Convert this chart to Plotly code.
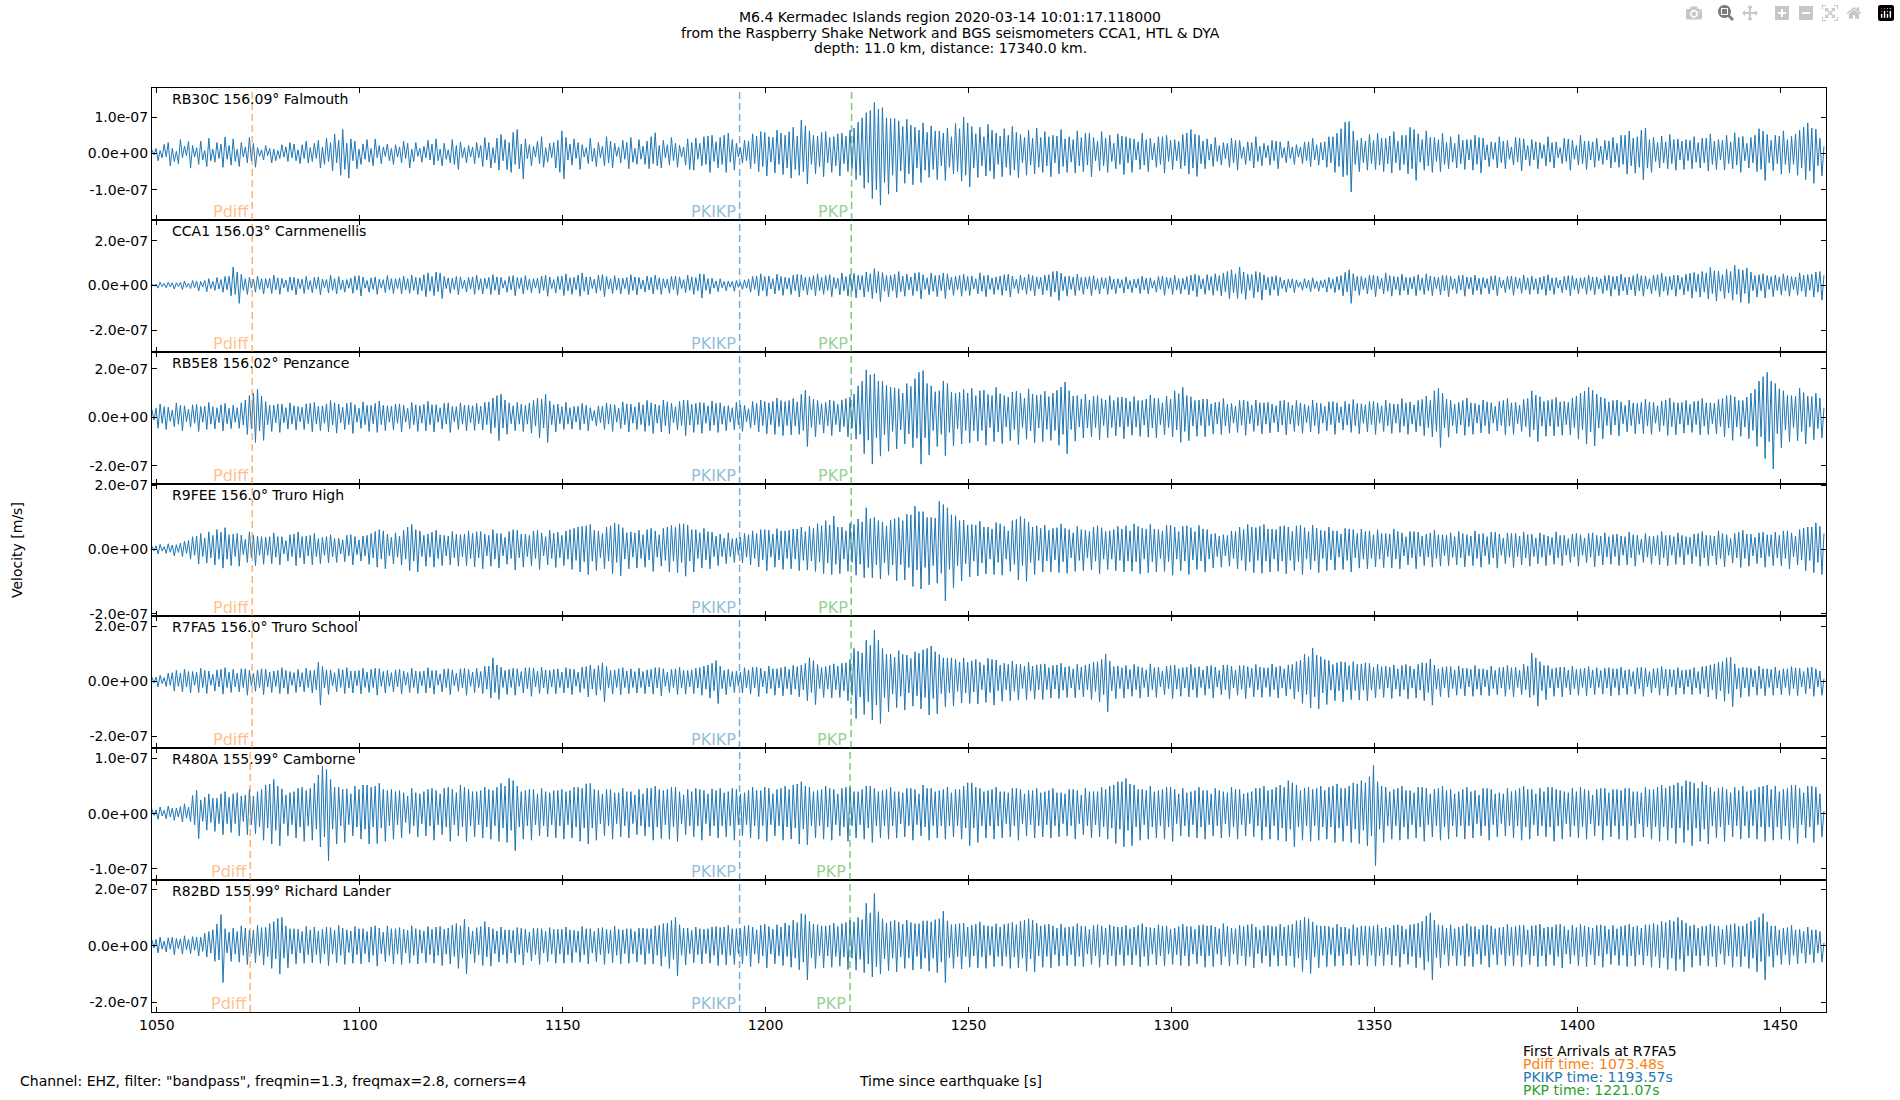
import plotly.graph_objects as go
from plotly.subplots import make_subplots

# Time axis: one value every half second, first sample at this time since the quake
start_time = 1048.8
sample_step = 0.5

stations = ["RB30C", "CCA1", "RB5E8", "R9FEE", "R7FA5", "R480A", "R82BD"]
distances = ["156.09", "156.03", "156.02", "156.0", "156.0", "155.99", "155.99"]
places = ["Falmouth", "Carnmenellis", "Penzance", "Truro High", "Truro School",
          "Camborne", "Richard Lander"]

# Vertical velocity, nm/s (one row = 20 s)
rb30c = [
    10, -4, 14, -20, 8, -12, 25, -9, 30, -34, 14, -22, 6, -28, 38, -12, 20, -6, 33, -40, 22, -10, 16, -30, 34, -18, 8, -36, 42, -20, 12, -24, 30, -14, 26, -38, 45, -16, 22, -32,
    40, -22, 12, -36, 30, -10, 18, -26, 44, -20, 28, -38, 16, -8, 10, -18, 22, -6, 14, -26, 12, -20, 8, -14, 24, -10, 18, -22, 30, -12, 26, -20, 10, -28, 24, -14, 34, -26, 16, -22,
    28, -14, 36, -40, 18, -30, 42, -22, 30, -48, 54, -26, 36, -60, 66, -44, 28, -68, 40, -20, 34, -42, 12, -30, 26, -16, 38, -24, 14, -34, 40, -12, 22, -28, 18, -8, 26, -20, 14, -30,
    24, -10, 18, -26, 34, -14, 28, -40, 12, -22, 30, -8, 14, -24, 20, -12, 36, -18, 26, -32, 40, -20, 12, -34, 28, -16, 10, -26, 38, -30, 22, -44, 32, -12, 16, -26, 22, -10, 18, -28,
    30, -12, 22, -36, 44, -18, 30, -40, 16, -26, 42, -46, 52, -20, 38, -44, 30, -52, 58, -30, 66, -42, 26, -70, 40, -14, 24, -34, 20, -10, 34, -28, 46, -38, 16, -24, 28, -12, 30, -40,
    36, -52, 62, -70, 44, -18, 26, -32, 40, -14, 30, -44, 24, -10, 16, -28, 42, -22, 14, -36, 30, -12, 20, -34, 46, -26, 34, -40, 28, -8, 18, -26, 36, -16, 30, -42, 44, -24, 14, -30,
    38, -16, 20, -30, 34, -42, 46, -28, 57, -34, 22, -40, 36, -12, 24, -32, 44, -20, 28, -38, 22, -10, 18, -32, 40, -44, 30, -46, 42, -16, 28, -34, 46, -30, 48, -52, 50, -22, 32, -40,
    44, -30, 50, -52, 56, -24, 38, -46, 28, -10, 16, -26, 36, -20, 34, -42, 54, -28, 48, -50, 60, -36, 58, -62, 46, -24, 44, -54, 64, -30, 56, -58, 50, -40, 60, -68, 72, -44, 48, -60,
    92, -50, 76, -84, 62, -30, 50, -56, 48, -36, 58, -64, 60, -26, 44, -52, 46, -34, 54, -62, 56, -28, 48, -50, 64, -42, 70, -72, 86, -60, 98, -96, 112, -80, 118, -124, 140, -100, 122, -142,
    126, -80, 98, -112, 96, -60, 96, -106, 90, -48, 74, -82, 94, -56, 78, -86, 72, -40, 64, -80, 84, -46, 58, -66, 76, -44, 62, -72, 62, -34, 56, -74, 70, -38, 46, -56, 82, -50, 68, -76,
    100, -60, 84, -92, 74, -40, 54, -66, 72, -34, 46, -62, 80, -48, 64, -70, 56, -30, 48, -64, 68, -38, 50, -60, 74, -46, 58, -66, 52, -26, 44, -60, 64, -32, 42, -56, 70, -38, 44, -52,
    60, -34, 46, -64, 50, -26, 48, -56, 66, -36, 40, -52, 46, -24, 38, -54, 62, -34, 44, -50, 56, -32, 56, -64, 44, -20, 34, -48, 60, -34, 42, -52, 50, -22, 28, -42, 54, -30, 48, -58,
    46, -26, 42, -52, 40, -18, 32, -44, 56, -32, 38, -50, 42, -18, 28, -38, 46, -30, 46, -54, 50, -22, 36, -44, 38, -20, 33, -42, 52, -34, 56, -57, 66, -40, 53, -63, 50, -28, 34, -42,
    40, -18, 26, -36, 44, -22, 22, -32, 30, -14, 28, -38, 42, -26, 36, -46, 36, -14, 18, -30, 32, -20, 30, -40, 46, -22, 20, -34, 28, -12, 22, -32, 36, -20, 34, -42, 32, -12, 16, -26,
    34, -14, 18, -30, 24, -10, 18, -28, 32, -20, 32, -36, 42, -18, 24, -32, 30, -18, 32, -38, 46, -26, 46, -52, 56, -36, 68, -64, 86, -60, 88, -106, 62, -30, 36, -50, 42, -26, 34, -46,
    52, -28, 36, -44, 56, -32, 42, -50, 42, -28, 48, -54, 60, -26, 34, -46, 50, -30, 50, -56, 72, -42, 66, -74, 54, -24, 38, -46, 62, -34, 44, -52, 44, -22, 38, -50, 56, -30, 30, -42,
    46, -24, 28, -40, 52, -28, 36, -44, 38, -18, 38, -46, 50, -30, 44, -54, 42, -18, 24, -36, 32, -16, 30, -40, 46, -26, 34, -42, 36, -16, 18, -32, 44, -24, 42, -48, 40, -18, 22, -34,
    38, -18, 32, -42, 30, -14, 24, -34, 46, -24, 30, -40, 32, -12, 16, -28, 42, -22, 40, -46, 36, -16, 22, -32, 50, -28, 34, -44, 34, -18, 32, -38, 42, -20, 20, -30, 36, -18, 34, -40,
    44, -24, 28, -38, 50, -30, 50, -57, 62, -34, 42, -54, 46, -38, 64, -72, 70, -40, 38, -52, 44, -22, 30, -40, 48, -26, 32, -42, 52, -28, 38, -46, 40, -18, 34, -44, 38, -20, 36, -42,
    46, -24, 30, -40, 42, -26, 42, -48, 54, -30, 34, -44, 38, -18, 36, -46, 50, -28, 32, -42, 57, -32, 44, -52, 47, -20, 28, -40, 44, -26, 50, -50, 68, -44, 62, -74, 52, -26, 36, -47,
    50, -28, 48, -57, 62, -30, 38, -54, 47, -30, 54, -60, 64, -40, 72, -72, 84, -48, 70, -82, 67, -34, 42, -62, 20,
]
cca1 = [
    8, -3, 6, -12, 15, -5, 9, -10, 14, -6, 12, -16, 12, -5, 14, -18, 20, -8, 10, -14, 22, -10, 20, -25, 18, -7, 22, -28, 30, -14, 18, -22, 35, -16, 26, -30, 40, -20, 42, -46,
    82, -40, 60, -80, 50, -22, 30, -40, 36, -12, 28, -30, 42, -18, 30, -38, 30, -12, 32, -36, 46, -20, 34, -40, 32, -10, 24, -28, 38, -22, 36, -42, 30, -14, 28, -35, 40, -18, 22, -32,
    36, -16, 38, -42, 28, -10, 26, -34, 46, -22, 30, -38, 40, -18, 24, -30, 26, -12, 32, -35, 42, -20, 44, -47, 38, -12, 22, -30, 34, -18, 38, -40, 28, -12, 26, -32, 44, -20, 30, -36,
    30, -14, 34, -38, 42, -20, 30, -35, 46, -22, 36, -40, 35, -24, 48, -50, 56, -26, 40, -45, 60, -28, 56, -58, 40, -14, 34, -35, 32, -18, 40, -42, 38, -14, 24, -30, 36, -16, 38, -40,
    46, -20, 30, -38, 32, -14, 36, -40, 48, -22, 38, -42, 36, -12, 22, -30, 40, -20, 44, -46, 35, -14, 34, -38, 44, -20, 28, -32, 30, -12, 32, -36, 42, -22, 46, -48, 38, -14, 26, -34,
    40, -18, 42, -45, 52, -24, 34, -40, 36, -20, 46, -48, 56, -26, 38, -42, 38, -14, 28, -35, 46, -22, 48, -50, 40, -16, 30, -36, 44, -20, 32, -38, 32, -14, 36, -40, 48, -22, 38, -42,
    36, -16, 24, -30, 42, -20, 36, -38, 46, -18, 34, -40, 30, -12, 28, -35, 40, -18, 42, -44, 38, -14, 26, -32, 46, -22, 38, -40, 35, -24, 52, -56, 50, -22, 30, -38, 32, -12, 20, -28,
    30, -10, 18, -24, 20, -8, 18, -26, 22, -8, 14, -18, 25, -12, 28, -30, 40, -18, 42, -46, 52, -24, 40, -48, 42, -16, 30, -38, 50, -22, 40, -44, 36, -16, 34, -40, 46, -24, 50, -52,
    48, -22, 36, -42, 38, -20, 44, -46, 52, -24, 36, -40, 44, -22, 48, -50, 36, -14, 32, -42, 56, -24, 40, -48, 50, -26, 54, -56, 45, -20, 44, -52, 60, -28, 52, -58, 75, -34, 62, -72,
    58, -26, 44, -50, 46, -24, 50, -55, 62, -28, 42, -48, 50, -20, 38, -45, 56, -26, 58, -60, 48, -18, 34, -42, 55, -26, 44, -50, 46, -24, 56, -58, 52, -20, 36, -44, 40, -20, 44, -48,
    50, -24, 40, -45, 42, -16, 30, -38, 56, -26, 44, -50, 46, -18, 34, -40, 38, -20, 42, -44, 48, -24, 50, -52, 42, -14, 28, -36, 46, -20, 36, -40, 50, -24, 44, -46, 38, -16, 36, -42,
    46, -22, 48, -50, 62, -30, 64, -67, 55, -24, 40, -48, 42, -18, 38, -45, 50, -22, 36, -40, 38, -16, 40, -46, 44, -20, 30, -38, 35, -14, 34, -40, 42, -18, 28, -36, 30, -12, 26, -34,
    38, -16, 22, -32, 28, -12, 30, -36, 42, -20, 32, -38, 34, -12, 22, -30, 40, -18, 42, -44, 36, -14, 34, -40, 46, -20, 30, -38, 32, -18, 40, -42, 46, -24, 50, -50, 44, -16, 30, -40,
    48, -22, 40, -44, 52, -24, 44, -46, 56, -28, 62, -60, 70, -32, 52, -58, 82, -36, 60, -62, 50, -22, 48, -56, 62, -30, 58, -66, 48, -20, 36, -44, 40, -20, 44, -46, 36, -14, 24, -30,
    28, -12, 30, -32, 25, -8, 16, -22, 30, -12, 24, -28, 34, -14, 20, -26, 22, -10, 26, -30, 36, -14, 28, -32, 40, -20, 44, -46, 58, -30, 70, -80, 52, -24, 40, -44, 40, -18, 34, -38,
    46, -20, 46, -50, 42, -16, 32, -38, 56, -26, 44, -48, 40, -18, 38, -44, 50, -22, 36, -42, 36, -16, 40, -46, 48, -22, 34, -40, 52, -24, 42, -46, 38, -14, 36, -42, 46, -24, 44, -50,
    40, -18, 30, -36, 44, -20, 46, -48, 38, -16, 36, -42, 46, -22, 32, -40, 35, -12, 30, -38, 42, -20, 44, -46, 36, -12, 24, -32, 40, -18, 42, -44, 38, -14, 32, -35, 46, -20, 34, -40,
    42, -20, 30, -38, 36, -18, 42, -44, 48, -22, 34, -40, 35, -12, 24, -32, 40, -20, 44, -46, 44, -18, 32, -38, 34, -14, 36, -40, 46, -22, 38, -42, 38, -16, 30, -36, 44, -22, 46, -48,
    40, -18, 42, -45, 50, -24, 36, -42, 38, -20, 44, -46, 52, -24, 44, -48, 42, -16, 30, -38, 46, -22, 48, -50, 56, -26, 40, -44, 40, -20, 46, -48, 46, -18, 36, -42, 50, -26, 54, -56,
    58, -28, 50, -52, 62, -30, 56, -60, 80, -36, 66, -70, 64, -26, 48, -58, 72, -34, 62, -66, 90, -40, 72, -76, 68, -36, 78, -80, 60, -24, 44, -52, 48, -24, 52, -56, 44, -18, 40, -50,
    46, -22, 38, -42, 52, -24, 44, -48, 40, -18, 38, -44, 56, -26, 46, -50, 48, -22, 50, -52, 60, -30, 62, -66, 45,
]
rb5e8 = [
    30, -12, 38, -45, 55, -24, 44, -50, 42, -16, 30, -38, 60, -28, 50, -55, 48, -18, 34, -40, 52, -24, 54, -58, 45, -20, 46, -50, 62, -28, 44, -48, 40, -22, 52, -55, 58, -26, 38, -46,
    50, -20, 40, -45, 60, -32, 72, -70, 90, -48, 100, -103, 117, -56, 88, -95, 65, -30, 50, -58, 50, -22, 56, -62, 55, -22, 40, -48, 60, -28, 48, -52, 45, -18, 42, -50, 56, -26, 58, -60,
    62, -28, 46, -55, 48, -24, 56, -60, 70, -32, 60, -65, 55, -22, 42, -50, 58, -30, 62, -66, 52, -20, 38, -45, 64, -30, 50, -58, 50, -26, 58, -62, 68, -30, 50, -55, 48, -20, 46, -52,
    55, -24, 56, -60, 50, -20, 38, -46, 62, -30, 52, -58, 48, -24, 54, -55, 66, -30, 52, -60, 52, -20, 40, -48, 58, -28, 60, -62, 45, -18, 44, -50, 60, -28, 50, -56, 50, -22, 48, -54,
    58, -26, 46, -52, 62, -30, 64, -66, 80, -42, 90, -96, 96, -44, 72, -70, 60, -26, 48, -55, 62, -28, 54, -58, 50, -28, 60, -65, 70, -36, 80, -85, 75, -44, 96, -103, 68, -30, 52, -60,
    55, -26, 44, -50, 62, -28, 40, -48, 45, -20, 46, -52, 58, -26, 50, -55, 40, -14, 28, -35, 48, -22, 46, -50, 60, -28, 54, -58, 52, -20, 38, -46, 64, -30, 56, -60, 55, -24, 44, -50,
    62, -30, 52, -58, 70, -34, 60, -66, 55, -24, 50, -60, 72, -34, 64, -68, 58, -22, 44, -52, 66, -34, 72, -75, 70, -32, 54, -62, 58, -30, 62, -66, 60, -24, 48, -55, 68, -32, 58, -62,
    60, -28, 46, -55, 48, -20, 40, -52, 62, -30, 52, -58, 50, -18, 36, -45, 66, -32, 58, -60, 72, -34, 66, -68, 60, -30, 66, -70, 80, -38, 70, -75, 65, -34, 70, -72, 78, -36, 64, -70,
    95, -54, 112, -120, 88, -42, 76, -80, 70, -30, 56, -65, 62, -34, 72, -75, 68, -30, 54, -60, 72, -38, 78, -80, 85, -44, 96, -90, 130, -70, 150, -150, 196, -94, 176, -193, 180, -84, 150, -160,
    150, -72, 132, -140, 125, -58, 122, -130, 118, -52, 100, -110, 140, -68, 128, -125, 160, -86, 186, -193, 193, -84, 140, -155, 130, -54, 106, -120, 110, -70, 150, -158, 140, -62, 104, -118, 100, -48, 104, -110,
    115, -54, 100, -105, 120, -56, 90, -98, 110, -54, 112, -115, 95, -42, 90, -100, 124, -60, 98, -108, 90, -40, 84, -96, 105, -50, 108, -112, 100, -42, 80, -90, 118, -56, 96, -104, 92, -44, 94, -100,
    108, -50, 86, -95, 100, -54, 112, -115, 125, -70, 146, -150, 110, -50, 88, -98, 90, -40, 76, -85, 96, -44, 72, -80, 88, -42, 90, -92, 78, -34, 72, -84, 90, -42, 70, -76, 82, -40, 84, -88,
    80, -38, 66, -74, 86, -40, 70, -78, 70, -32, 76, -82, 92, -44, 80, -85, 78, -30, 60, -72, 88, -42, 76, -80, 110, -52, 98, -103, 124, -58, 90, -96, 85, -36, 70, -78, 72, -34, 76, -80,
    75, -34, 56, -68, 62, -28, 64, -70, 78, -36, 54, -65, 58, -24, 46, -62, 70, -32, 72, -74, 66, -26, 50, -58, 72, -34, 60, -68, 60, -28, 62, -64, 55, -22, 48, -60, 68, -32, 70, -72,
    62, -28, 50, -58, 70, -34, 60, -66, 54, -22, 48, -60, 72, -34, 60, -68, 58, -24, 46, -55, 64, -30, 66, -70, 60, -22, 44, -52, 66, -32, 56, -62, 74, -34, 58, -68, 56, -24, 52, -60,
    65, -30, 66, -70, 60, -24, 48, -58, 72, -34, 58, -66, 55, -24, 54, -62, 78, -36, 60, -70, 64, -28, 52, -60, 70, -36, 74, -75, 88, -42, 70, -80, 110, -58, 120, -124, 100, -44, 76, -82,
    70, -34, 54, -66, 62, -32, 70, -74, 80, -38, 60, -70, 58, -24, 52, -64, 72, -34, 64, -68, 60, -24, 46, -56, 66, -34, 70, -72, 78, -36, 60, -70, 62, -26, 50, -58, 74, -38, 78, -80,
    110, -52, 92, -100, 85, -36, 66, -78, 70, -36, 74, -76, 82, -38, 64, -74, 66, -30, 62, -72, 80, -42, 88, -90, 100, -52, 108, -110, 124, -60, 112, -118, 96, -44, 84, -88, 78, -34, 64, -72,
    70, -32, 72, -76, 64, -26, 50, -60, 72, -34, 60, -68, 58, -28, 62, -66, 75, -36, 64, -70, 62, -24, 48, -58, 68, -34, 72, -74, 80, -38, 62, -72, 60, -28, 62, -65, 70, -32, 54, -62,
    66, -30, 68, -72, 78, -36, 60, -70, 60, -26, 58, -68, 74, -38, 78, -80, 90, -44, 92, -95, 85, -40, 70, -78, 70, -40, 84, -88, 100, -54, 116, -120, 150, -80, 168, -170, 186, -100, 150, -213,
    140, -68, 118, -125, 110, -52, 90, -100, 90, -42, 88, -96, 120, -58, 102, -110, 88, -40, 86, -92, 100, -46, 80, -85, 40,
]
r9fee = [
    10, -4, 12, -14, 16, -5, 9, -12, 18, -8, 14, -20, 15, -9, 20, -22, 26, -12, 28, -30, 40, -18, 42, -45, 50, -22, 36, -42, 55, -26, 44, -48, 62, -30, 54, -58, 68, -30, 46, -50,
    48, -22, 50, -52, 45, -16, 32, -40, 55, -26, 44, -50, 42, -18, 40, -46, 38, -18, 40, -44, 52, -24, 40, -48, 40, -14, 28, -36, 46, -22, 48, -50, 55, -26, 40, -45, 42, -20, 44, -48,
    50, -22, 34, -44, 38, -18, 40, -42, 46, -22, 34, -40, 35, -14, 30, -38, 44, -20, 46, -48, 40, -16, 30, -36, 42, -20, 44, -46, 50, -26, 56, -55, 62, -30, 58, -60, 48, -20, 38, -45,
    52, -24, 42, -48, 60, -30, 70, -66, 78, -36, 62, -70, 58, -22, 44, -52, 48, -24, 54, -55, 60, -28, 46, -50, 44, -20, 42, -48, 56, -26, 48, -52, 46, -22, 48, -50, 58, -28, 50, -54,
    55, -26, 56, -60, 48, -20, 44, -52, 62, -30, 50, -58, 50, -20, 38, -46, 56, -28, 62, -64, 60, -26, 48, -55, 48, -22, 44, -50, 58, -28, 60, -62, 52, -20, 40, -48, 60, -28, 50, -56,
    54, -26, 44, -50, 58, -30, 62, -62, 66, -34, 70, -70, 72, -38, 74, -78, 78, -36, 60, -65, 58, -26, 50, -60, 70, -36, 74, -75, 83, -40, 78, -82, 68, -30, 52, -60, 55, -24, 52, -58,
    60, -28, 46, -55, 62, -32, 66, -68, 58, -24, 46, -52, 66, -34, 70, -70, 75, -36, 70, -72, 80, -40, 80, -83, 76, -36, 62, -70, 62, -28, 52, -58, 66, -32, 56, -60, 54, -22, 42, -50,
    48, -22, 36, -44, 52, -22, 34, -40, 36, -16, 38, -42, 50, -24, 46, -48, 58, -28, 50, -54, 62, -32, 62, -66, 60, -24, 48, -55, 65, -32, 58, -62, 58, -28, 60, -60, 64, -30, 64, -66,
    70, -34, 56, -64, 72, -36, 66, -68, 80, -38, 74, -75, 90, -42, 76, -78, 104, -46, 70, -75, 70, -30, 58, -68, 82, -40, 78, -80, 95, -46, 86, -88, 130, -56, 96, -88, 100, -48, 90, -92,
    86, -42, 74, -80, 92, -48, 96, -98, 100, -48, 90, -95, 110, -56, 108, -115, 135, -64, 118, -123, 118, -56, 100, -110, 100, -50, 98, -105, 150, -74, 140, -160, 130, -62, 108, -120, 105, -50, 90, -98,
    92, -44, 76, -85, 78, -36, 76, -82, 88, -42, 70, -76, 70, -30, 64, -78, 84, -40, 80, -80, 72, -30, 58, -68, 90, -46, 94, -95, 104, -50, 96, -99, 86, -40, 70, -78, 74, -34, 66, -70,
    76, -36, 60, -70, 66, -32, 68, -72, 80, -38, 66, -74, 62, -26, 52, -68, 72, -34, 62, -66, 60, -26, 56, -64, 70, -36, 74, -76, 68, -30, 56, -62, 58, -30, 62, -66, 72, -34, 64, -70,
    74, -36, 58, -68, 80, -38, 72, -76, 66, -30, 64, -72, 78, -38, 64, -70, 62, -28, 58, -68, 76, -38, 76, -80, 70, -30, 56, -66, 72, -36, 74, -78, 68, -32, 56, -62, 75, -36, 64, -70,
    62, -30, 48, -58, 50, -22, 42, -55, 46, -20, 44, -52, 58, -28, 56, -60, 70, -34, 62, -66, 78, -38, 70, -72, 68, -34, 72, -74, 78, -36, 64, -70, 64, -30, 62, -68, 72, -36, 74, -76,
    70, -34, 56, -66, 74, -38, 76, -78, 68, -30, 56, -62, 76, -36, 66, -72, 60, -28, 58, -66, 70, -32, 58, -64, 58, -24, 48, -62, 66, -34, 64, -70, 62, -26, 50, -58, 64, -30, 56, -60,
    58, -28, 46, -54, 62, -30, 50, -56, 50, -22, 48, -58, 64, -30, 56, -60, 52, -20, 40, -48, 56, -26, 56, -60, 54, -22, 42, -50, 48, -24, 52, -55, 60, -28, 46, -52, 46, -20, 44, -50,
    52, -24, 40, -48, 56, -26, 50, -54, 46, -20, 42, -50, 58, -28, 48, -55, 50, -20, 40, -46, 54, -26, 54, -58, 48, -18, 36, -44, 52, -24, 50, -56, 50, -22, 42, -48, 55, -26, 46, -52,
    48, -22, 36, -44, 52, -24, 46, -50, 42, -18, 38, -46, 55, -26, 44, -50, 44, -18, 34, -40, 48, -22, 50, -52, 46, -18, 36, -42, 50, -24, 52, -54, 44, -20, 42, -48, 52, -24, 40, -46,
    46, -22, 48, -50, 42, -18, 40, -48, 54, -26, 46, -52, 44, -16, 32, -40, 50, -24, 42, -46, 42, -20, 44, -48, 56, -26, 44, -50, 44, -18, 40, -46, 52, -24, 44, -48, 40, -16, 38, -44,
    48, -22, 50, -52, 56, -26, 44, -50, 44, -20, 42, -48, 58, -28, 50, -54, 46, -18, 34, -42, 50, -26, 54, -56, 60, -28, 48, -52, 48, -20, 38, -44, 52, -26, 54, -55, 46, -22, 46, -50,
    54, -26, 44, -50, 58, -28, 58, -60, 52, -22, 42, -48, 62, -32, 66, -66, 70, -34, 70, -72, 83, -40, 72, -78, 50,
]
r7fa5 = [
    15, -6, 16, -20, 22, -8, 14, -18, 30, -14, 32, -35, 40, -18, 30, -38, 45, -20, 36, -42, 36, -14, 34, -40, 48, -22, 40, -44, 38, -14, 26, -35, 42, -20, 44, -46, 50, -22, 34, -40,
    44, -20, 30, -38, 46, -22, 46, -50, 40, -16, 30, -36, 42, -22, 46, -48, 45, -20, 34, -40, 38, -18, 40, -44, 50, -24, 40, -46, 36, -14, 32, -40, 44, -20, 32, -38, 48, -22, 40, -42,
    40, -30, 70, -86, 55, -24, 42, -48, 42, -16, 32, -38, 46, -22, 42, -44, 50, -24, 38, -42, 38, -16, 40, -45, 48, -22, 34, -40, 44, -22, 48, -50, 46, -18, 36, -42, 40, -18, 32, -38,
    42, -20, 44, -46, 38, -14, 32, -40, 48, -22, 38, -44, 36, -16, 38, -42, 50, -24, 40, -46, 40, -14, 28, -38, 45, -22, 46, -48, 42, -16, 30, -36, 46, -24, 48, -50, 44, -18, 34, -40,
    48, -22, 36, -44, 55, -28, 56, -60, 86, -40, 60, -65, 52, -22, 40, -48, 44, -22, 48, -50, 46, -18, 36, -42, 50, -26, 50, -54, 48, -20, 38, -44, 52, -24, 42, -46, 40, -20, 44, -45,
    46, -22, 34, -42, 50, -24, 46, -48, 44, -18, 34, -40, 52, -26, 54, -56, 60, -28, 46, -50, 58, -32, 68, -75, 54, -24, 40, -46, 42, -22, 46, -48, 50, -22, 38, -44, 46, -22, 36, -42,
    48, -22, 36, -44, 42, -20, 44, -46, 50, -24, 50, -52, 46, -18, 34, -40, 44, -22, 46, -48, 52, -24, 40, -46, 40, -20, 42, -44, 48, -24, 50, -50, 56, -28, 60, -60, 66, -34, 76, -80,
    55, -26, 40, -48, 44, -20, 36, -40, 38, -16, 34, -42, 50, -24, 42, -46, 52, -24, 52, -55, 48, -20, 38, -44, 56, -26, 46, -50, 46, -24, 50, -52, 54, -26, 44, -48, 58, -28, 54, -56,
    60, -30, 66, -70, 86, -40, 76, -84, 62, -26, 50, -58, 54, -28, 58, -60, 64, -30, 56, -58, 66, -34, 68, -70, 80, -50, 120, -135, 110, -56, 104, -120, 150, -74, 132, -140, 186, -86, 150, -153,
    120, -58, 100, -110, 100, -46, 88, -95, 112, -54, 98, -104, 96, -42, 84, -90, 108, -52, 102, -100, 115, -58, 120, -122, 129, -62, 108, -118, 98, -44, 86, -92, 85, -42, 86, -90, 80, -36, 70, -78,
    86, -42, 70, -80, 75, -38, 80, -82, 70, -30, 60, -76, 84, -40, 80, -86, 78, -34, 60, -72, 66, -30, 62, -70, 74, -36, 62, -68, 62, -26, 56, -66, 70, -34, 56, -64, 60, -30, 62, -66,
    64, -30, 50, -60, 58, -28, 60, -62, 66, -32, 52, -58, 55, -24, 46, -60, 62, -30, 52, -56, 60, -30, 64, -66, 70, -36, 72, -75, 80, -48, 100, -110, 74, -34, 54, -62, 56, -26, 50, -60,
    58, -28, 44, -54, 62, -30, 54, -60, 50, -22, 42, -56, 64, -30, 50, -58, 52, -20, 38, -48, 56, -26, 58, -62, 60, -28, 46, -54, 50, -24, 52, -56, 62, -30, 50, -58, 54, -22, 42, -50,
    56, -26, 58, -60, 52, -20, 40, -48, 60, -30, 60, -64, 55, -24, 42, -50, 58, -28, 58, -62, 54, -22, 48, -56, 62, -30, 52, -58, 50, -22, 50, -55, 64, -30, 52, -60, 56, -24, 46, -52,
    60, -28, 62, -64, 72, -38, 78, -80, 100, -48, 90, -96, 122, -56, 96, -100, 90, -42, 80, -84, 76, -32, 62, -70, 68, -34, 72, -74, 70, -30, 58, -66, 72, -34, 62, -68, 64, -32, 68, -70,
    66, -32, 52, -60, 62, -28, 54, -58, 56, -24, 52, -62, 60, -28, 46, -54, 58, -30, 62, -64, 56, -24, 46, -60, 62, -32, 68, -70, 66, -40, 82, -86, 60, -28, 46, -55, 52, -24, 54, -58,
    54, -26, 42, -50, 56, -26, 48, -52, 48, -20, 44, -54, 58, -28, 46, -50, 46, -20, 42, -52, 56, -26, 40, -48, 50, -24, 52, -54, 58, -28, 50, -56, 52, -22, 40, -48, 62, -30, 56, -58,
    104, -50, 86, -90, 72, -34, 58, -66, 58, -24, 46, -54, 50, -24, 52, -56, 52, -22, 42, -48, 56, -26, 44, -50, 46, -22, 48, -52, 54, -24, 42, -48, 50, -22, 40, -46, 48, -24, 50, -52,
    46, -22, 46, -50, 52, -24, 40, -48, 44, -18, 36, -46, 50, -26, 52, -54, 48, -20, 36, -42, 46, -24, 48, -50, 54, -26, 44, -52, 44, -20, 42, -48, 50, -24, 40, -46, 42, -20, 44, -48,
    50, -24, 36, -46, 54, -26, 56, -56, 60, -30, 64, -64, 70, -34, 72, -72, 86, -44, 88, -92, 64, -28, 48, -58, 52, -24, 50, -54, 48, -20, 40, -50, 56, -26, 46, -52, 46, -22, 44, -50,
    52, -24, 40, -48, 46, -22, 46, -50, 54, -26, 50, -52, 48, -20, 36, -44, 50, -26, 52, -54, 46, -20, 38, -50, 10,
]
r480a = [
    8, -3, 7, -10, 12, -4, 6, -9, 14, -6, 10, -12, 10, -6, 13, -15, 18, -8, 12, -14, 33, -20, 42, -45, 25, -14, 30, -30, 36, -16, 28, -32, 28, -18, 36, -38, 40, -18, 30, -34,
    36, -18, 38, -40, 32, -14, 34, -38, 44, -20, 32, -36, 40, -24, 44, -48, 52, -26, 54, -55, 62, -30, 50, -58, 45, -18, 34, -40, 38, -20, 40, -44, 46, -24, 48, -50, 42, -22, 46, -48,
    55, -28, 70, -60, 86, -42, 80, -85, 62, -28, 48, -55, 48, -22, 44, -52, 45, -20, 36, -40, 50, -24, 44, -46, 52, -28, 52, -55, 48, -24, 50, -54, 55, -26, 44, -50, 42, -22, 44, -46,
    40, -20, 42, -44, 38, -16, 32, -36, 46, -22, 38, -42, 36, -18, 40, -40, 44, -22, 46, -48, 42, -20, 36, -38, 46, -24, 48, -50, 44, -20, 38, -40, 52, -24, 48, -50, 45, -22, 40, -42,
    40, -20, 42, -44, 48, -24, 44, -46, 42, -22, 48, -50, 55, -26, 50, -52, 64, -30, 60, -67, 50, -24, 40, -46, 42, -22, 44, -48, 44, -20, 36, -40, 46, -22, 40, -42, 38, -20, 42, -44,
    42, -22, 44, -46, 40, -20, 42, -44, 48, -24, 48, -50, 46, -26, 54, -55, 55, -26, 44, -48, 42, -18, 36, -40, 44, -22, 44, -46, 38, -18, 38, -42, 46, -22, 40, -44, 40, -18, 34, -38,
    44, -22, 36, -40, 46, -24, 46, -48, 50, -24, 44, -45, 42, -20, 44, -46, 48, -24, 48, -50, 40, -18, 34, -38, 44, -22, 40, -42, 46, -22, 44, -48, 42, -18, 36, -40, 45, -22, 42, -44,
    46, -22, 38, -42, 40, -22, 46, -48, 44, -20, 36, -40, 38, -20, 42, -44, 48, -22, 42, -46, 42, -22, 48, -50, 46, -20, 36, -40, 44, -22, 46, -48, 50, -24, 44, -46, 52, -26, 54, -55,
    58, -28, 50, -56, 48, -22, 40, -44, 42, -22, 44, -46, 50, -24, 46, -48, 44, -20, 36, -40, 46, -24, 48, -50, 48, -22, 40, -44, 40, -20, 44, -46, 50, -26, 50, -52, 46, -22, 40, -44,
    42, -22, 44, -46, 48, -22, 40, -44, 40, -18, 38, -42, 46, -22, 46, -48, 44, -20, 36, -40, 52, -24, 46, -48, 46, -22, 40, -44, 42, -22, 44, -46, 48, -22, 38, -42, 44, -22, 44, -46,
    50, -26, 56, -58, 56, -26, 48, -52, 46, -22, 40, -44, 42, -22, 44, -46, 48, -22, 40, -44, 40, -18, 38, -42, 46, -22, 46, -48, 44, -18, 36, -40, 42, -20, 42, -44, 46, -22, 38, -42,
    40, -20, 42, -44, 46, -22, 38, -42, 38, -18, 36, -40, 44, -22, 44, -46, 42, -18, 34, -38, 46, -22, 40, -44, 40, -20, 40, -42, 48, -24, 44, -46, 50, -26, 52, -54, 58, -28, 58, -60,
    64, -30, 54, -58, 52, -24, 44, -48, 44, -20, 42, -46, 50, -24, 40, -44, 42, -22, 44, -46, 48, -24, 48, -50, 44, -18, 36, -40, 46, -22, 38, -42, 40, -20, 42, -44, 48, -24, 42, -46,
    42, -20, 36, -40, 46, -22, 42, -44, 40, -18, 38, -42, 48, -24, 44, -46, 44, -20, 36, -40, 38, -18, 40, -42, 46, -22, 46, -48, 50, -24, 42, -46, 44, -22, 48, -48, 52, -26, 48, -50,
    60, -28, 56, -60, 52, -24, 42, -48, 46, -22, 48, -50, 44, -22, 46, -48, 50, -24, 42, -46, 48, -24, 50, -52, 54, -26, 46, -50, 46, -22, 50, -52, 56, -28, 54, -54, 60, -30, 56, -58,
    67, -40, 88, -94, 58, -28, 50, -52, 48, -22, 40, -46, 44, -22, 46, -48, 50, -24, 42, -46, 42, -20, 38, -44, 48, -24, 48, -50, 46, -20, 36, -42, 44, -22, 46, -48, 50, -24, 42, -46,
    44, -22, 36, -42, 40, -22, 44, -46, 48, -22, 40, -44, 42, -18, 34, -40, 46, -22, 46, -48, 44, -20, 36, -42, 38, -18, 36, -40, 46, -22, 40, -44, 42, -22, 46, -48, 50, -24, 44, -46,
    44, -20, 36, -40, 46, -22, 40, -42, 48, -24, 48, -50, 44, -22, 42, -46, 40, -18, 38, -42, 46, -22, 40, -44, 48, -24, 44, -46, 42, -18, 34, -40, 44, -22, 46, -48, 46, -22, 38, -42,
    44, -22, 44, -46, 42, -22, 46, -48, 46, -22, 40, -44, 40, -18, 38, -42, 48, -24, 44, -46, 44, -24, 48, -50, 52, -24, 46, -48, 50, -26, 52, -54, 56, -26, 50, -52, 60, -30, 58, -58,
    55, -26, 46, -50, 58, -28, 52, -55, 48, -22, 40, -44, 46, -24, 48, -50, 44, -20, 38, -42, 48, -22, 42, -46, 50, -22, 40, -44, 42, -22, 44, -46, 48, -24, 50, -50, 52, -24, 44, -48,
    50, -24, 40, -46, 44, -22, 46, -48, 52, -26, 52, -54, 46, -20, 38, -44, 50, -24, 50, -52, 48, -20, 36, -42, 5,
]
r82bd = [
    20, -8, 22, -25, 30, -12, 16, -22, 28, -12, 30, -32, 26, -10, 24, -30, 35, -14, 22, -28, 32, -16, 30, -36, 30, -20, 44, -40, 50, -26, 56, -55, 77, -50, 110, -130, 60, -26, 48, -55,
    62, -30, 50, -58, 70, -34, 62, -66, 55, -26, 56, -60, 72, -34, 64, -68, 65, -38, 78, -80, 85, -46, 96, -100, 100, -44, 70, -78, 60, -30, 60, -64, 58, -26, 50, -62, 68, -32, 56, -60,
    66, -32, 52, -62, 58, -30, 66, -70, 64, -30, 54, -60, 72, -34, 62, -66, 56, -24, 52, -62, 68, -32, 60, -64, 60, -28, 50, -58, 66, -34, 70, -72, 62, -28, 48, -56, 70, -34, 60, -64,
    60, -30, 64, -66, 58, -26, 54, -62, 70, -34, 60, -64, 56, -26, 52, -60, 68, -32, 58, -62, 66, -34, 68, -70, 58, -30, 62, -64, 72, -38, 78, -80, 70, -44, 94, -100, 66, -30, 52, -60,
    64, -32, 68, -70, 85, -40, 66, -72, 60, -28, 52, -58, 66, -32, 56, -62, 56, -26, 54, -60, 64, -32, 62, -68, 58, -24, 48, -54, 62, -32, 62, -66, 60, -26, 50, -56, 64, -30, 58, -62,
    58, -30, 58, -62, 66, -32, 56, -60, 54, -24, 52, -58, 68, -32, 60, -64, 60, -26, 50, -56, 62, -32, 64, -66, 58, -28, 56, -60, 70, -34, 58, -64, 56, -28, 60, -62, 60, -28, 50, -58,
    62, -32, 62, -66, 60, -28, 60, -64, 70, -34, 72, -72, 78, -38, 80, -80, 89, -48, 100, -107, 74, -34, 62, -68, 62, -28, 54, -60, 66, -32, 60, -64, 58, -28, 60, -62, 66, -34, 68, -70,
    64, -32, 66, -68, 72, -34, 60, -66, 60, -28, 60, -64, 70, -36, 72, -74, 66, -30, 56, -62, 72, -36, 76, -78, 68, -30, 58, -64, 74, -36, 66, -70, 80, -38, 72, -76, 90, -44, 82, -85,
    113, -58, 110, -120, 86, -42, 76, -80, 74, -36, 70, -78, 70, -36, 72, -76, 80, -38, 68, -72, 78, -40, 82, -84, 90, -44, 84, -86, 100, -48, 92, -95, 150, -64, 116, -110, 184, -74, 120, -100,
    95, -46, 80, -88, 86, -44, 90, -92, 84, -40, 76, -80, 90, -44, 82, -86, 78, -38, 78, -82, 88, -44, 88, -90, 84, -44, 92, -95, 95, -58, 122, -130, 88, -42, 74, -80, 76, -38, 78, -82,
    80, -38, 66, -76, 72, -36, 76, -78, 84, -40, 72, -80, 70, -34, 68, -74, 78, -38, 66, -72, 76, -38, 78, -80, 82, -40, 74, -78, 86, -44, 90, -90, 95, -46, 90, -92, 80, -36, 70, -76,
    74, -38, 76, -78, 70, -32, 62, -72, 76, -36, 64, -70, 66, -32, 68, -72, 78, -38, 70, -74, 68, -30, 58, -66, 72, -36, 74, -76, 70, -32, 62, -68, 74, -36, 68, -72, 66, -32, 66, -70,
    72, -34, 60, -68, 66, -34, 72, -74, 78, -38, 66, -70, 64, -30, 62, -68, 74, -36, 70, -72, 70, -30, 58, -66, 62, -32, 68, -70, 76, -36, 68, -72, 68, -30, 58, -64, 72, -36, 74, -76,
    70, -36, 72, -74, 66, -30, 60, -68, 78, -38, 68, -72, 62, -30, 60, -66, 72, -36, 68, -70, 74, -38, 76, -78, 66, -28, 56, -62, 70, -36, 72, -74, 68, -34, 68, -72, 76, -36, 66, -70,
    72, -36, 76, -76, 88, -44, 90, -92, 100, -50, 96, -98, 84, -40, 72, -78, 70, -34, 70, -74, 68, -32, 64, -72, 76, -36, 66, -70, 66, -30, 60, -70, 74, -36, 64, -68, 70, -34, 70, -72,
    68, -34, 70, -72, 74, -36, 62, -70, 66, -32, 62, -68, 72, -36, 74, -76, 70, -30, 58, -66, 74, -38, 76, -78, 80, -42, 86, -86, 105, -56, 116, -120, 90, -42, 74, -78, 72, -32, 62, -70,
    74, -36, 60, -70, 66, -34, 70, -72, 78, -38, 68, -74, 68, -30, 58, -66, 72, -36, 74, -76, 70, -32, 60, -68, 64, -32, 66, -70, 76, -36, 66, -72, 68, -34, 72, -74, 72, -32, 56, -66,
    70, -36, 72, -74, 76, -36, 62, -72, 66, -32, 66, -70, 74, -38, 76, -78, 68, -30, 56, -64, 72, -34, 64, -70, 76, -38, 70, -74, 66, -32, 62, -68, 72, -36, 74, -76, 70, -30, 58, -66,
    72, -34, 60, -70, 68, -34, 72, -74, 76, -36, 66, -72, 70, -32, 62, -68, 74, -36, 74, -76, 80, -38, 74, -78, 86, -42, 82, -84, 90, -44, 86, -88, 100, -48, 90, -92, 80, -36, 70, -76,
    74, -36, 62, -70, 68, -34, 70, -72, 76, -38, 70, -74, 70, -30, 58, -66, 72, -36, 74, -76, 78, -38, 68, -74, 70, -38, 78, -80, 86, -44, 90, -92, 100, -56, 114, -120, 84, -38, 70, -76,
    70, -34, 56, -66, 62, -32, 64, -68, 72, -34, 56, -64, 58, -26, 50, -62, 66, -32, 56, -60, 56, -26, 50, -58, 10,
]
traces = [rb30c, cca1, rb5e8, r9fee, r7fa5, r480a, r82bd]

# y limits of each panel (m/s) and the tick step used on it
y_limits = [(-1.83e-7, 1.80e-7), (-2.97e-7, 2.92e-7), (-2.75e-7, 2.70e-7),
            (-2.07e-7, 2.04e-7), (-2.42e-7, 2.38e-7), (-1.20e-7, 1.19e-7),
            (-2.34e-7, 2.32e-7)]
y_steps = [1e-7, 2e-7, 2e-7, 2e-7, 2e-7, 1e-7, 2e-7]

# predicted arrival times (s) for each station
pdiff_times = [1073.5, 1073.5, 1073.5, 1073.5, 1073.48, 1073.0, 1073.0]
pkikp_times = [1193.6, 1193.6, 1193.6, 1193.6, 1193.57, 1193.6, 1193.6]
pkp_times = [1221.2, 1221.1, 1221.1, 1221.1, 1221.07, 1220.8, 1220.8]
phase_names = ["Pdiff", "PKIKP", "PKP"]
phase_rgb = ["255,127,14", "31,119,180", "44,160,44"]

FONT = "DejaVu Sans"

fig = make_subplots(rows=7, cols=1, shared_xaxes=True, vertical_spacing=0)

for i, vals in enumerate(traces):
    row = i + 1
    t = [start_time + k * sample_step for k in range(len(vals))]
    v = [x * 1e-9 for x in vals]
    fig.add_trace(go.Scatter(x=t, y=v, mode="lines",
                             line=dict(color="#1f77b4", width=1),
                             showlegend=False, hoverinfo="skip"),
                  row=row, col=1)

    sfx = "" if row == 1 else str(row)
    # station label
    fig.add_annotation(text=f"{stations[i]} {distances[i]}° {places[i]}",
                       xref=f"x{sfx} domain", yref=f"y{sfx} domain",
                       x=0.0105, y=0.915, xanchor="left", yanchor="middle",
                       showarrow=False, font=dict(size=14, color="black", family=FONT))

    # arrival markers
    for name, rgb, times in zip(phase_names, phase_rgb,
                                [pdiff_times, pkikp_times, pkp_times]):
        tt = times[i]
        fig.add_shape(type="line", x0=tt, x1=tt, y0=0, y1=1,
                      xref=f"x{sfx}", yref=f"y{sfx} domain",
                      line=dict(color=f"rgba({rgb},0.6)", width=1.5, dash="7px,4px"))
        fig.add_annotation(text=name, x=tt - 0.4, y=0.068,
                           xref=f"x{sfx}", yref=f"y{sfx} domain",
                           xanchor="right", yanchor="middle", showarrow=False,
                           font=dict(size=16, color=f"rgba({rgb},0.5)", family=FONT))

    lo, hi = y_limits[i]
    step = y_steps[i]
    ticks = [-step, 0.0, step]
    fig.update_yaxes(range=[lo, hi], tickvals=ticks,
                     ticktext=[f"{x:.1e}" for x in ticks], row=row, col=1)

fig.update_xaxes(range=[1048.8, 1461.3], tick0=1050, dtick=50,
                 showline=True, linecolor="black", linewidth=1, mirror="ticks",
                 ticks="inside", ticklen=5, tickcolor="black",
                 showgrid=False, zeroline=False,
                 tickfont=dict(size=14, color="black", family=FONT))
fig.update_yaxes(showline=True, linecolor="black", linewidth=1, mirror="ticks",
                 ticks="inside", ticklen=5, tickcolor="black",
                 showgrid=False, zeroline=False,
                 tickfont=dict(size=14, color="black", family=FONT))

# title
title_lines = ["M6.4 Kermadec Islands region 2020-03-14 10:01:17.118000",
               "from the Raspberry Shake Network and BGS seismometers CCA1, HTL & DYA",
               "depth: 11.0 km, distance: 17340.0 km."]
for j, line in enumerate(title_lines):
    fig.add_annotation(text=line, xref="paper", yref="paper", x=0.477, y=1.0768 - j * 0.0168,
                       xanchor="center", yanchor="middle", showarrow=False,
                       font=dict(size=14, color="black", family=FONT))

fig.add_annotation(text="Velocity [m/s]", xref="paper", yref="paper", x=-0.0806, y=0.5,
                   textangle=-90, xanchor="center", yanchor="middle", showarrow=False,
                   font=dict(size=14, color="black", family=FONT))
fig.add_annotation(text="Time since earthquake [s]", xref="paper", yref="paper",
                   x=0.477, y=-0.0747, xanchor="center", yanchor="middle", showarrow=False,
                   font=dict(size=14, color="black", family=FONT))
fig.add_annotation(text='Channel: EHZ, filter: "bandpass", freqmin=1.3, freqmax=2.8, corners=4',
                   xref="paper", yref="paper", x=-0.080, y=-0.0747,
                   xanchor="left", yanchor="middle", showarrow=False,
                   font=dict(size=14, color="black", family=FONT))

# first-arrival summary
summary = [("First Arrivals at R7FA5", "black"),
           ("Pdiff time: 1073.48s", "#ff7f0e"),
           ("PKIKP time: 1193.57s", "#1f77b4"),
           ("PKP time: 1221.07s", "#2ca02c")]
for j, (txt, col) in enumerate(summary):
    fig.add_annotation(text=txt, xref="paper", yref="paper", x=0.818, y=-0.0425 - j * 0.0139,
                       xanchor="left", yanchor="middle", showarrow=False,
                       font=dict(size=14, color=col, family=FONT))

fig.update_layout(width=1900, height=1100,
                  margin=dict(l=152, r=74, t=88, b=88),
                  plot_bgcolor="white", paper_bgcolor="white",
                  showlegend=False)

fig.write_html("out.html", post_script="document.body.style.margin='0';")
